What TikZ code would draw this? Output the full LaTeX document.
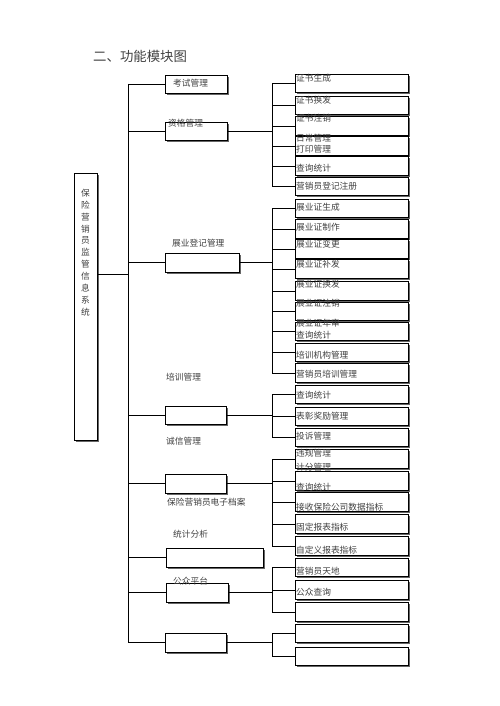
\documentclass[tikz,border=0pt]{standalone}
\usepackage{fontspec}
\setmainfont{Noto Sans CJK SC}
\usetikzlibrary{shadows}
\begin{document}
\begin{tikzpicture}[x=1pt, y=-1pt,
		box/.style = {draw, fill=white, inner sep=0pt, line width=0.8pt, drop shadow={shadow xshift=1.6pt, shadow yshift=-1.6pt, fill=black!60, opacity=1}},
		sub/.style = {box, minimum width=113pt, minimum height=18.5pt},
		txt/.style = {anchor=west, inner sep=0pt, text=black!75, font=\fontsize{8.7}{10}\selectfont},
		link/.style = {draw, line width=0.7pt}]
		\useasboundingbox (0,0) rectangle (500,706);
		\node[anchor=west, inner sep=0pt, text=black!75, font=\fontsize{13.4}{15}\selectfont] (title) at (93,56) {二、功能模块图};
		% root
		\node[box, minimum width=23pt, minimum height=267pt] (0) at (85.5,306.5) {};
		\node[inner sep=0pt, align=center, text=black!75, font=\fontsize{8.7}{11.9}\selectfont] (l0) at (85.5,252.5) {保\\险\\营\\销\\员\\监\\管\\信\\息\\系\\统};
		\coordinate (t) at (128,274);
		\coordinate (s) at (272,0);
		% modules
		\node[box, minimum width=62pt, minimum height=18pt] (1) at (196,84) {};
		\node[box, minimum width=62pt, minimum height=18pt] (2) at (196,131) {};
		\node[box, minimum width=74pt, minimum height=19pt] (3) at (202,262.5) {};
		\node[box, minimum width=61pt, minimum height=18pt] (4) at (195.5,415) {};
		\node[box, minimum width=61pt, minimum height=19pt] (5) at (195.5,483.5) {};
		\node[box, minimum width=97pt, minimum height=19pt] (6) at (214.5,557.5) {};
		\node[box, minimum width=62pt, minimum height=19pt] (7) at (197,592.5) {};
		\node[box, minimum width=61pt, minimum height=19pt] (8) at (195.5,642.5) {};
		% sub boxes
		\node[sub] (21) at (351.5,83.5) {};
		\node[sub] (22) at (351.5,105.5) {};
		\node[sub] (23) at (351.5,126) {};
		\node[sub] (24) at (351.5,146) {};
		\node[sub] (25) at (351.5,166) {};
		\node[sub] (26) at (351.5,186.5) {};
		\node[sub] (31) at (351.5,208.5) {};
		\node[sub] (32) at (351.5,229) {};
		\node[sub] (33) at (351.5,249) {};
		\node[sub] (34) at (351.5,269) {};
		\node[sub] (35) at (351.5,291) {};
		\node[sub] (36) at (351.5,311.5) {};
		\node[sub] (37) at (351.5,331.5) {};
		\node[sub] (38) at (351.5,352.5) {};
		\node[sub] (39) at (351.5,373) {};
		\node[sub] (41) at (351.5,394.5) {};
		\node[sub] (42) at (351.5,416.5) {};
		\node[sub] (43) at (351.5,437.5) {};
		\node[sub] (51) at (351.5,459) {};
		\node[sub] (52) at (351.5,481) {};
		\node[sub] (53) at (351.5,502) {};
		\node[sub] (54) at (351.5,524) {};
		\node[sub] (55) at (351.5,546) {};
		\node[sub] (71) at (351.5,567.5) {};
		\node[sub] (72) at (351.5,590) {};
		\node[sub] (73) at (351.5,612) {};
		\node[sub] (81) at (351.5,633.5) {};
		\node[sub] (82) at (351.5,656.5) {};
		% main tree
		\draw[link] (0.east |- t) -- (t);
		\draw[link] (1.west -| t) -- (8.west -| t);
		\draw[link] (1.west -| t) -- (1.west);
		\draw[link] (2.west -| t) -- (2.west);
		\draw[link] (3.west -| t) -- (3.west);
		\draw[link] (4.west -| t) -- (4.west);
		\draw[link] (5.west -| t) -- (5.west);
		\draw[link] (6.west -| t) -- (6.west);
		\draw[link] (7.west -| t) -- (7.west);
		\draw[link] (8.west -| t) -- (8.west);
		% branches
		\draw[link] (2.east) -- (2.east -| s);
		\draw[link] (21.west -| s) -- (26.west -| s);
		\draw[link] (21.west -| s) -- (21.west);
		\draw[link] (22.west -| s) -- (22.west);
		\draw[link] (23.west -| s) -- (23.west);
		\draw[link] (24.west -| s) -- (24.west);
		\draw[link] (25.west -| s) -- (25.west);
		\draw[link] (26.west -| s) -- (26.west);
		\draw[link] (3.east) -- (3.east -| s);
		\draw[link] (31.west -| s) -- (39.west -| s);
		\draw[link] (31.west -| s) -- (31.west);
		\draw[link] (32.west -| s) -- (32.west);
		\draw[link] (33.west -| s) -- (33.west);
		\draw[link] (34.west -| s) -- (34.west);
		\draw[link] (35.west -| s) -- (35.west);
		\draw[link] (36.west -| s) -- (36.west);
		\draw[link] (37.west -| s) -- (37.west);
		\draw[link] (38.west -| s) -- (38.west);
		\draw[link] (39.west -| s) -- (39.west);
		\draw[link] (4.east) -- (4.east -| s);
		\draw[link] (41.west -| s) -- (43.west -| s);
		\draw[link] (41.west -| s) -- (41.west);
		\draw[link] (42.west -| s) -- (42.west);
		\draw[link] (43.west -| s) -- (43.west);
		\draw[link] (5.east) -- (5.east -| s);
		\draw[link] (51.west -| s) -- (55.west -| s);
		\draw[link] (51.west -| s) -- (51.west);
		\draw[link] (52.west -| s) -- (52.west);
		\draw[link] (53.west -| s) -- (53.west);
		\draw[link] (54.west -| s) -- (54.west);
		\draw[link] (55.west -| s) -- (55.west);
		\draw[link] (7.east) -- (7.east -| s);
		\draw[link] (71.west -| s) -- (73.west -| s);
		\draw[link] (71.west -| s) -- (71.west);
		\draw[link] (72.west -| s) -- (72.west);
		\draw[link] (73.west -| s) -- (73.west);
		\draw[link] (8.east) -- (8.east -| s);
		\draw[link] (81.west -| s) -- (82.west -| s);
		\draw[link] (81.west -| s) -- (81.west);
		\draw[link] (82.west -| s) -- (82.west);
		% module labels
		\node[txt] (l1) at (173,83) {考试管理};
		\node[txt] (l2) at (168,123) {资格管理};
		\node[txt] (l3) at (172,243) {展业登记管理};
		\node[txt] (l4) at (166,377) {培训管理};
		\node[txt] (l5a) at (166,441) {诚信管理};
		\node[txt] (l5) at (167,502) {保险营销员电子档案};
		\node[txt] (l6) at (173,534) {统计分析};
		\node[txt] (l7) at (173,581) {公众平台};
		% sub labels
		\node[txt] (l21) at (296,78) {证书生成};
		\node[txt] (l22) at (296,100) {证书换发};
		\node[txt] (l23) at (296,118) {证书注销};
		\node[txt] (l24a) at (296,138) {日常管理};
		\node[txt] (l24) at (296,149) {打印管理};
		\node[txt] (l25) at (296,168) {查询统计};
		\node[txt] (l26) at (296,186) {营销员登记注册};
		\node[txt] (l31) at (296,207) {展业证生成};
		\node[txt] (l32) at (296,227) {展业证制作};
		\node[txt] (l33) at (296,244) {展业证变更};
		\node[txt] (l34) at (296,264) {展业证补发};
		\node[txt] (l35) at (296,284) {展业证换发};
		\node[txt] (l36) at (296,303) {展业证注销};
		\node[txt] (l37a) at (296,323) {展业证年审};
		\node[txt] (l37) at (296,335) {查询统计};
		\node[txt] (l38) at (296,355) {培训机构管理};
		\node[txt] (l39) at (296,374) {营销员培训管理};
		\node[txt] (l41) at (296,395) {查询统计};
		\node[txt] (l42) at (296,416) {表彰奖励管理};
		\node[txt] (l43) at (296,436) {投诉管理};
		\node[txt] (l51a) at (296,453) {违规管理};
		\node[txt] (l51) at (296,467) {计分管理};
		\node[txt] (l52) at (296,487) {查询统计};
		\node[txt] (l53) at (296,507) {接收保险公司数据指标};
		\node[txt] (l54) at (296,527) {固定报表指标};
		\node[txt] (l55) at (296,550) {自定义报表指标};
		\node[txt] (l71) at (296,571) {营销员天地};
		\node[txt] (l72) at (296,592) {公众查询};
	\end{tikzpicture}
\end{document}
